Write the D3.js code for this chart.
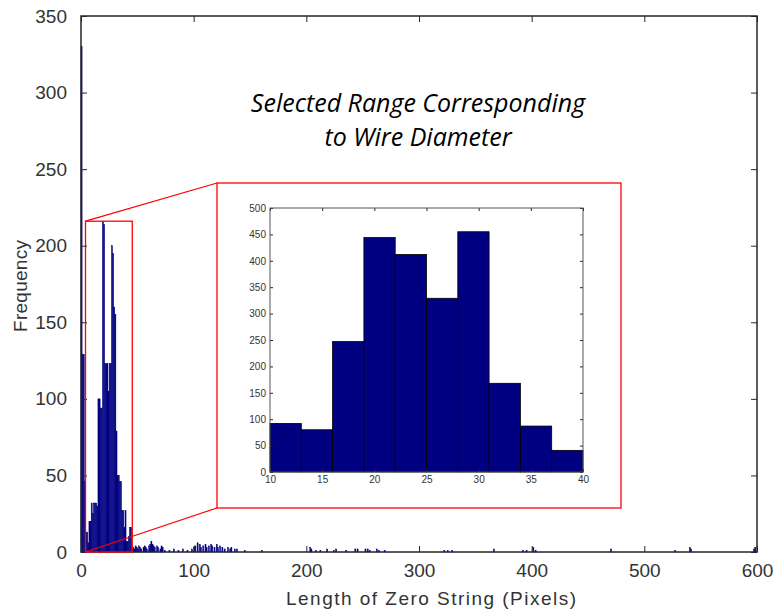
<!DOCTYPE html>
<html>
<head>
<meta charset="utf-8">
<script src="https://cdn.jsdelivr.net/npm/d3@7"></script>
<style>
  body { margin: 0; background: #fff; }
  svg { display: block; }
  .tick text { font-family: "Liberation Sans", Arial, sans-serif; fill: #333; }
</style>
</head>
<body>
<div id="plot"></div>
<script>
const WIDTH = 774;
const HEIGHT = 611;

// main histogram, one bin per pixel length (bin k covers [k, k+1))
const mainCounts = [
  330, 129, 129, 46, 13, 13, 6, 20, 20, 32,
  25, 32, 32, 32, 30, 100, 100, 94, 94, 216,
  214, 123, 123, 123, 105, 123, 123, 200, 195, 160,
  155, 79, 50, 50, 46, 46, 27, 27, 16, 27,
  7, 7, 10, 16, 16, 2
];

// sparse tail of the main histogram: [length, count]
const tailBins = [
  [46, 3], [47, 2], [48, 4], [49, 3], [50, 2], [51, 4], [52, 3], [53, 2], [55, 3], [56, 4],
  [57, 3], [58, 2], [60, 4], [61, 5], [62, 7], [63, 5], [64, 4], [65, 3], [67, 4], [68, 3],
  [70, 2], [71, 4], [72, 3], [74, 1], [78, 1], [82, 2], [86, 1], [90, 2], [94, 1], [98, 2],
  [100, 3], [101, 4], [103, 6], [105, 5], [106, 3], [108, 4], [110, 5], [111, 3], [113, 4], [115, 5],
  [116, 4], [118, 3], [120, 5], [121, 3], [123, 4], [125, 3], [127, 2], [130, 3], [132, 2], [133, 3],
  [136, 2], [138, 2], [145, 1], [160, 1], [203, 3], [204, 2], [208, 1], [212, 1], [218, 2], [224, 1],
  [226, 2], [235, 1], [243, 2], [245, 2], [252, 2], [254, 2], [256, 1], [262, 2], [264, 1], [269, 1],
  [322, 1], [325, 1], [329, 1], [366, 2], [392, 1], [395, 1], [401, 3], [403, 1], [470, 2], [527, 1],
  [540, 3], [541, 2], [597, 2], [598, 3]
];

const mainXTicks = [0, 100, 200, 300, 400, 500, 600];
const mainYTicks = [0, 50, 100, 150, 200, 250, 300, 350];

// zoomed histogram of the selected range
const insetEdges = [10, 13, 16, 19, 22, 25, 28, 31, 34, 37, 40];
const insetCounts = [92, 80, 247, 444, 412, 329, 455, 168, 87, 41];
const insetXTicks = [10, 15, 20, 25, 30, 35, 40];
const insetYTicks = [0, 50, 100, 150, 200, 250, 300, 350, 400, 450, 500];

const selectedRange = [4, 45.5];
const selectedTop = 216;

const BAR_COLOR = "#000080";
const AXIS_COLOR = "#262626";

const svg = d3.select("#plot").append("svg")
  .attr("width", WIDTH)
  .attr("height", HEIGHT);

svg.append("rect").attr("width", WIDTH).attr("height", HEIGHT).attr("fill", "#fff");

// ---------- main axes ----------
const MAIN = {left: 81, right: 757, top: 16, bottom: 552};

const x = d3.scaleLinear().domain([0, 600]).range([MAIN.left, MAIN.right]);
const y = d3.scaleLinear().domain([0, 350]).range([MAIN.bottom, MAIN.top]);

const allBins = mainCounts.map((c, i) => [i, c]).concat(tailBins);

svg.append("g")
  .selectAll("rect")
  .data(allBins)
  .join("rect")
    .attr("x", d => x(d[0]))
    .attr("y", d => y(d[1]))
    .attr("width", d => x(d[0] + 1) - x(d[0]))
    .attr("height", d => y(0) - y(d[1]))
    .attr("fill", BAR_COLOR)
    .attr("stroke", BAR_COLOR)
    .attr("stroke-width", 0.4);

function styleAxis(g, size) {
  g.select(".domain").remove();
  g.selectAll(".tick line").attr("stroke", AXIS_COLOR);
  g.selectAll(".tick text").attr("font-size", size);
}

svg.append("g")
  .attr("transform", `translate(0,${MAIN.bottom})`)
  .call(d3.axisBottom(x).tickValues(mainXTicks).tickSize(-6).tickPadding(12).tickFormat(d3.format("d")))
  .call(g => styleAxis(g, "19px"));

svg.append("g")
  .attr("transform", `translate(0,${MAIN.top})`)
  .call(d3.axisTop(x).tickValues(mainXTicks).tickSize(-6).tickFormat(""))
  .call(g => styleAxis(g, "19px"));

svg.append("g")
  .attr("transform", `translate(${MAIN.left},0)`)
  .call(d3.axisLeft(y).tickValues(mainYTicks).tickSize(-6).tickPadding(14).tickFormat(d3.format("d")))
  .call(g => styleAxis(g, "19px"));

svg.append("g")
  .attr("transform", `translate(${MAIN.right},0)`)
  .call(d3.axisRight(y).tickValues(mainYTicks).tickSize(-6).tickFormat(""))
  .call(g => styleAxis(g, "19px"));

svg.append("rect")
  .attr("x", MAIN.left).attr("y", MAIN.top)
  .attr("width", MAIN.right - MAIN.left).attr("height", MAIN.bottom - MAIN.top)
  .attr("fill", "none").attr("stroke", AXIS_COLOR).attr("stroke-width", 1.5);

svg.append("text")
  .attr("x", 431)
  .attr("y", 605)
  .attr("text-anchor", "middle")
  .attr("font-family", "Liberation Sans, Arial, sans-serif")
  .attr("font-size", "19px")
  .attr("textLength", 290)
  .attr("lengthAdjust", "spacing")
  .attr("fill", "#333")
  .text("Length of Zero String (Pixels)");

svg.append("text")
  .attr("transform", `translate(27,286) rotate(-90)`)
  .attr("text-anchor", "middle")
  .attr("font-family", "Liberation Sans, Arial, sans-serif")
  .attr("font-size", "19px")
  .attr("textLength", 92)
  .attr("lengthAdjust", "spacing")
  .attr("fill", "#333")
  .text("Frequency");

svg.append("text")
  .attr("text-anchor", "middle")
  .attr("font-family", "Open Sans, Noto Sans, sans-serif")
  .attr("font-style", "italic")
  .attr("font-size", "25px")
  .attr("fill", "#000")
  .selectAll("tspan")
  .data(["Selected Range Corresponding", "to Wire Diameter"])
  .join("tspan")
    .attr("x", 418)
    .attr("y", (d, i) => 112 + i * 34)
    .text(d => d);

// ---------- inset ----------
const FRAME = {left: 217, right: 621, top: 183, bottom: 508};
const INSET = {left: 270, right: 583, top: 208, bottom: 472};

const RED = "#ff0000";

// selected range box on main chart and the connector lines
svg.append("rect")
  .attr("x", x(selectedRange[0])).attr("y", y(selectedTop))
  .attr("width", x(selectedRange[1]) - x(selectedRange[0]))
  .attr("height", y(0) - y(selectedTop))
  .attr("fill", "none").attr("stroke", RED).attr("stroke-width", 1.3);

svg.append("line")
  .attr("x1", x(selectedRange[0])).attr("y1", y(selectedTop))
  .attr("x2", FRAME.left).attr("y2", FRAME.top)
  .attr("stroke", RED).attr("stroke-width", 1.3);

svg.append("line")
  .attr("x1", x(selectedRange[0])).attr("y1", y(0))
  .attr("x2", FRAME.left).attr("y2", FRAME.bottom)
  .attr("stroke", RED).attr("stroke-width", 1.3);

svg.append("rect")
  .attr("x", FRAME.left).attr("y", FRAME.top)
  .attr("width", FRAME.right - FRAME.left).attr("height", FRAME.bottom - FRAME.top)
  .attr("fill", "#fff").attr("stroke", RED).attr("stroke-width", 1.3);

const xi = d3.scaleLinear().domain([10, 40]).range([INSET.left, INSET.right]);
const yi = d3.scaleLinear().domain([0, 500]).range([INSET.bottom, INSET.top]);

svg.append("g")
  .selectAll("rect")
  .data(insetCounts)
  .join("rect")
    .attr("x", (d, i) => xi(insetEdges[i]))
    .attr("y", d => yi(d))
    .attr("width", (d, i) => xi(insetEdges[i + 1]) - xi(insetEdges[i]))
    .attr("height", d => yi(0) - yi(d))
    .attr("fill", BAR_COLOR)
    .attr("stroke", "#000")
    .attr("stroke-width", 0.8);

svg.append("g")
  .attr("transform", `translate(0,${INSET.bottom})`)
  .call(d3.axisBottom(xi).tickValues(insetXTicks).tickSize(-3).tickPadding(4))
  .call(g => styleAxis(g, "10px"));

svg.append("g")
  .attr("transform", `translate(0,${INSET.top})`)
  .call(d3.axisTop(xi).tickValues(insetXTicks).tickSize(-3).tickFormat(""))
  .call(g => styleAxis(g, "10px"));

svg.append("g")
  .attr("transform", `translate(${INSET.left},0)`)
  .call(d3.axisLeft(yi).tickValues(insetYTicks).tickSize(-3).tickPadding(4))
  .call(g => styleAxis(g, "10px"));

svg.append("g")
  .attr("transform", `translate(${INSET.right},0)`)
  .call(d3.axisRight(yi).tickValues(insetYTicks).tickSize(-3).tickFormat(""))
  .call(g => styleAxis(g, "10px"));

svg.append("rect")
  .attr("x", INSET.left).attr("y", INSET.top)
  .attr("width", INSET.right - INSET.left).attr("height", INSET.bottom - INSET.top)
  .attr("fill", "none").attr("stroke", "#555").attr("stroke-width", 1);
</script>
</body>
</html>
